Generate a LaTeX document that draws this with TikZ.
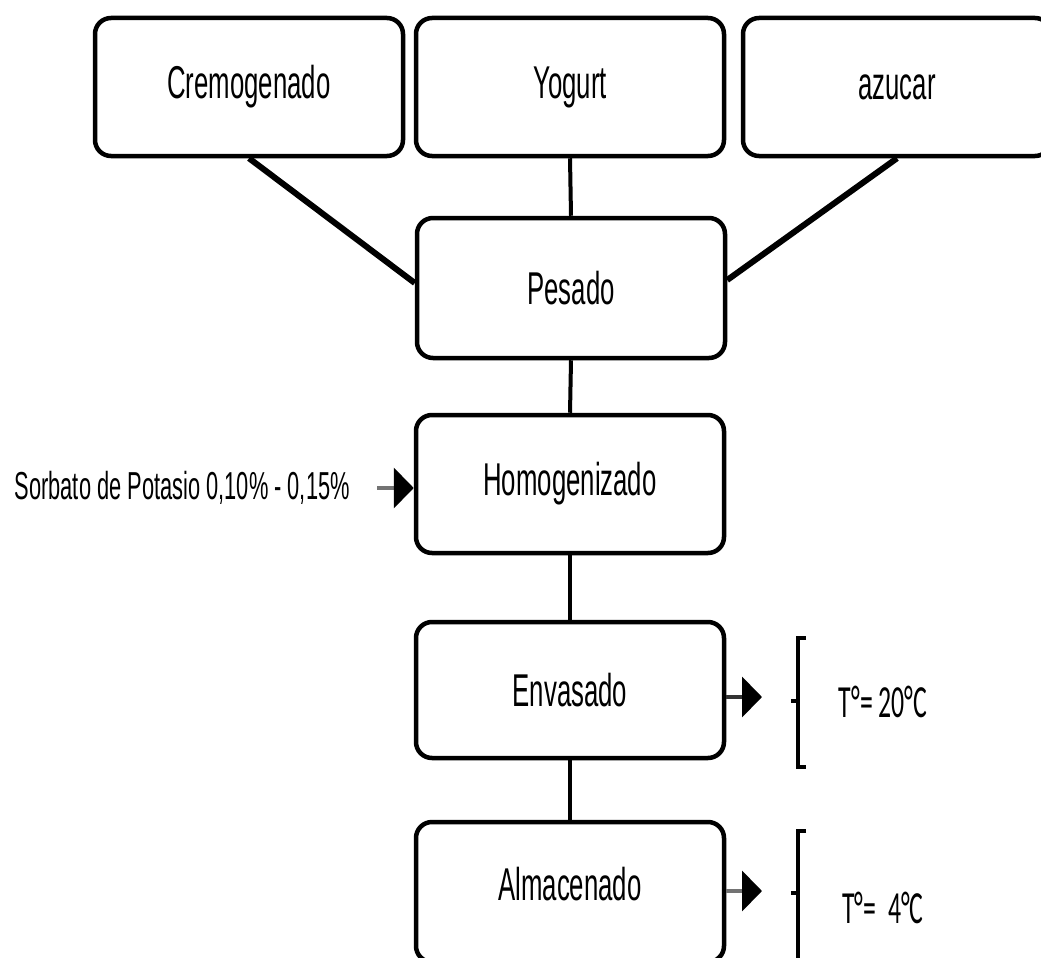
\documentclass[tikz,border=0pt]{standalone}
\usepackage{fontspec}
\usetikzlibrary{arrows.meta}
\newfontfamily\boxfont[FakeStretch=0.56]{Liberation Sans}
\newfontfamily\tempfont[FakeStretch=0.56]{Carlito}
\begin{document}
\begin{tikzpicture}[x=1pt,y=-1pt,
  stepbox/.style={draw=black, line width=4.5pt, rounded corners=16pt,
    minimum width=308pt, minimum height=138pt, inner sep=0pt,
    font=\boxfont\fontsize{46}{50}\selectfont},
  boxtext/.style={inner sep=0pt, font=\boxfont\fontsize{46}{50}\selectfont},
  sidetext/.style={inner sep=0pt, font=\boxfont\fontsize{39}{44}\selectfont},
  temptext/.style={inner sep=0pt, font=\tempfont\fontsize{46}{50}\selectfont},
  link/.style={line width=4pt},
  diag/.style={line width=6pt},
  feed/.style={line width=4pt, -{Triangle[length=20pt,width=40pt,black]}},
  brace/.style={line width=3.5pt}]
\useasboundingbox (0,0) rectangle (1041,958);

% raw materials
\node[stepbox] (crem) at (249,87) {Cremogenado};
\node[stepbox] (yog) at (570,87) {Yogurt};
\node[stepbox] (azu) at (897,87) {azucar};

% process steps
\node[stepbox, minimum height=140pt] (pes) at (571,288) {Pesado};
\node[stepbox] (hom) at (570,484) {Homogenizado};
\node[stepbox, minimum height=136pt] (env) at (570,690) {Envasado};
\node[stepbox, minimum height=140pt] (alm) at (570,892) {};
\node[boxtext] (almtext) at (570,884) {Almacenado};

% connections between steps
\draw[diag] (crem.south) -- ([yshift=5pt]pes.west);
\draw[diag] (azu.south) -- ([yshift=8pt]pes.east);
\draw[link] (yog.south) -- (pes.north);
\draw[link] (pes.south) -- (hom.north);
\draw[link] (hom.south) -- (env.north);
\draw[link] (env.south) -- (alm.north);

% additive
\node[sidetext, anchor=east] (sorb) at (350,488) {Sorbato de Potasio 0,10\% - 0,15\%};
\coordinate (sorbstart) at (377,488);
\draw[feed, draw=black!55] (sorbstart) -- (sorbstart -| hom.west);

% storage conditions
\coordinate (envout) at (762,697);
\draw[feed, draw=black!80] (envout -| env.east) -- (envout);
\draw[brace] (806,638) -- (798,638) -- (798,767) -- (806,767);
\draw[brace] (798,701) -- (791,701);
\node[temptext] (t20) at (883,702) {T°= 20°C};

\coordinate (almout) at (762,891);
\draw[feed, draw=black!55] (almout -| alm.east) -- (almout);
\draw[brace] (806,831) -- (798,831) -- (798,970);
\draw[brace] (798,893) -- (791,893);
\node[temptext] (t4) at (883,908) {T°=\ \ 4°C};
\end{tikzpicture}
\end{document}
